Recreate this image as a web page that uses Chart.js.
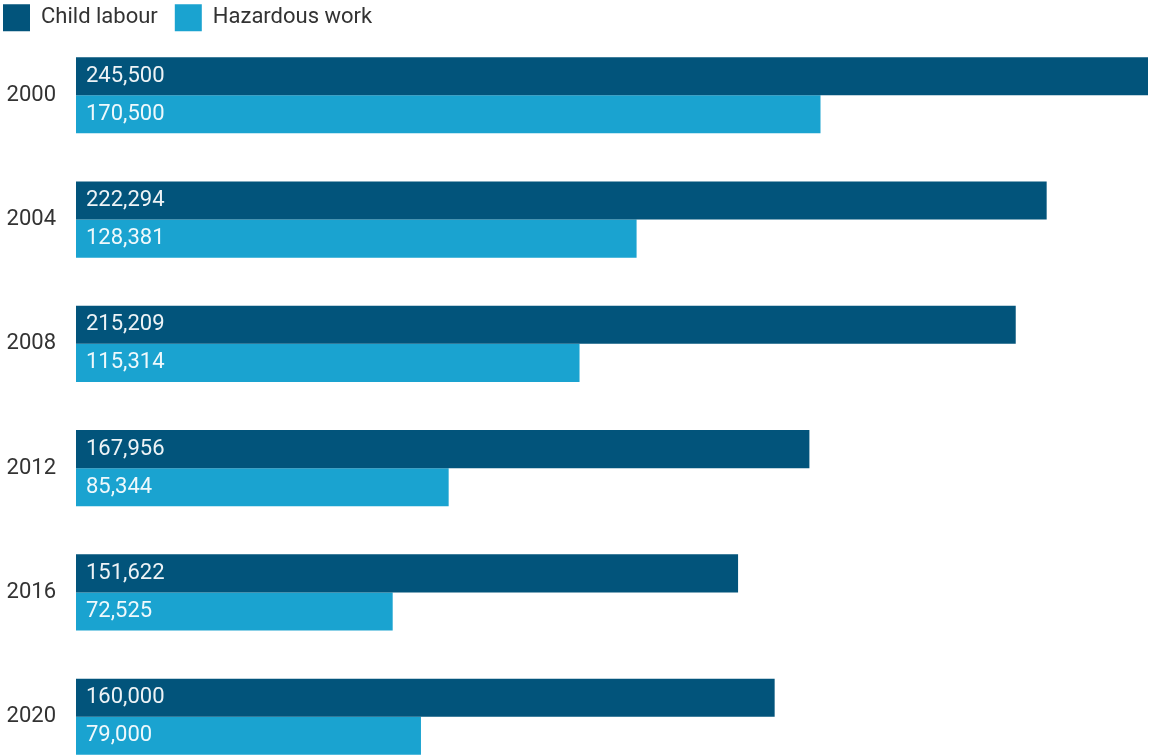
<!DOCTYPE html>
<html><head><meta charset="utf-8">
<script src="https://cdn.jsdelivr.net/npm/chart.js@4/dist/chart.umd.min.js"></script>
<style>html,body{margin:0;padding:0;background:#fff;overflow:hidden}canvas{display:block}</style>
</head><body><canvas id="c" width="1150" height="812" style="width:1150px;height:812px"></canvas>
<script>
const years = ['2000', '2004', '2008', '2012', '2016', '2020'];
const childLabour = [245500, 222294, 215209, 167956, 151622, 160000];
const hazardousWork = [170500, 128381, 115314, 85344, 72525, 79000];
const seriesNames = ['Child labour', 'Hazardous work'];
const seriesColors = ['#02547b', '#1aa3d0'];

Chart.defaults.font.family = 'Roboto, "Liberation Sans", sans-serif';
Chart.defaults.font.size = 22;
Chart.defaults.color = '#333333';

const barLabels = {
  id: 'barLabels',
  afterDatasetsDraw(chart) {
    const ctx = chart.ctx;
    ctx.save();
    ctx.font = '22px Roboto, "Liberation Sans", sans-serif';
    ctx.fillStyle = 'rgba(255,255,255,0.93)';
    ctx.textBaseline = 'middle';
    ctx.textAlign = 'left';
    chart.data.datasets.forEach((ds, i) => {
      const meta = chart.getDatasetMeta(i);
      meta.data.forEach((bar, j) => {
        ctx.fillText(ds.data[j].toLocaleString('en-US'), bar.base + 10, bar.y);
      });
    });
    ctx.restore();
  }
};

const legendFit = {
  id: 'legendFit',
  beforeLayout(chart) {
    const lg = chart.legend;
    if (lg && !lg._fitWrapped) {
      const f = lg.fit;
      lg.fit = function () { f.call(this); this.height = 46; };
      lg._fitWrapped = true;
    }
  }
};

new Chart(document.getElementById('c'), {
  type: 'bar',
  data: {
    labels: years,
    datasets: [
      { label: seriesNames[0], data: childLabour, backgroundColor: seriesColors[0], borderWidth: 0 },
      { label: seriesNames[1], data: hazardousWork, backgroundColor: seriesColors[1], borderWidth: 0 }
    ]
  },
  options: {
    indexAxis: 'y',
    responsive: false,
    animation: false,
    layout: { padding: { top: -13, left: -14, right: 2, bottom: 2 } },
    datasets: { bar: { categoryPercentage: 0.612, barPercentage: 1.0 } },
    plugins: {
      legend: {
        position: 'top',
        align: 'start',
        labels: { boxWidth: 27, boxHeight: 27, padding: 17, color: '#333333', font: { size: 22 } }
      },
      tooltip: { enabled: false }
    },
    scales: {
      x: { display: false, min: 0, max: 245500 },
      y: {
        grid: { display: false, drawTicks: false },
        border: { display: false },
        ticks: { padding: 20, color: '#333333', font: { size: 22 } },
        afterFit(scale) { scale.width = 90; }
      }
    }
  },
  plugins: [barLabels, legendFit]
});
</script>
</body></html>
